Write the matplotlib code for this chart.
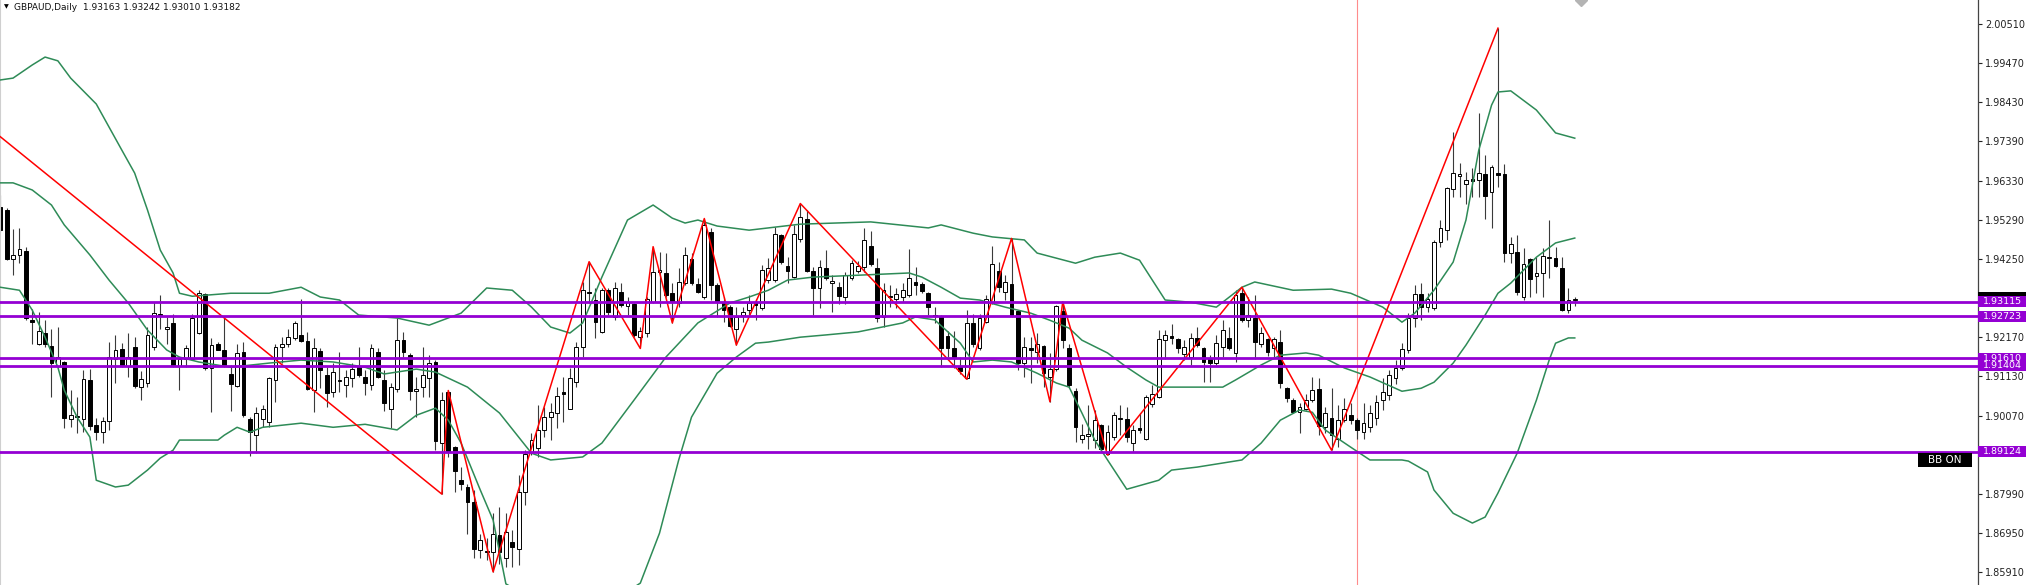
import matplotlib
matplotlib.use("Agg")
import matplotlib.pyplot as plt
from matplotlib.patches import Rectangle
from matplotlib.transforms import blended_transform_factory

# GBPAUD daily candles (oldest first)
opens = [1.9564, 1.9557, 1.9425, 1.9436, 1.9447, 1.9264, 1.9200, 1.9229, 1.9193, 1.9140,
         1.9152, 1.8998, 1.9005, 1.8998, 1.9103, 1.8982, 1.8965, 1.8994, 1.9158, 1.9186,
         1.9140, 1.9192, 1.9083, 1.9096, 1.9192, 1.9279, 1.9239, 1.9255, 1.9140, 1.9158,
         1.9160, 1.9227, 1.9332, 1.9134, 1.9198, 1.9184, 1.9119, 1.9087, 1.9178, 1.8998,
         1.8956, 1.8998, 1.8992, 1.9103, 1.9190, 1.9199, 1.9214, 1.9223, 1.9208, 1.9076,
         1.9181, 1.9116, 1.9072, 1.9101, 1.9089, 1.9107, 1.9140, 1.9112, 1.9089, 1.9178,
         1.9103, 1.9027, 1.9078, 1.9209, 1.9169, 1.9073, 1.9083, 1.9107, 1.9150, 1.8934,
         1.9072, 1.8925, 1.8836, 1.8817, 1.8779, 1.8650, 1.8647, 1.8645, 1.8690, 1.8628,
         1.8672, 1.8654, 1.8805, 1.8912, 1.8921, 1.8970, 1.9005, 1.9014, 1.9072, 1.9027,
         1.9098, 1.9192, 1.9338, 1.9316, 1.9231, 1.9342, 1.9271, 1.9338, 1.9300, 1.9305,
         1.9218, 1.9229, 1.9311, 1.9391, 1.9387, 1.9334, 1.9307, 1.9362, 1.9424, 1.9358,
         1.9325, 1.9498, 1.9356, 1.9311, 1.9298, 1.9240, 1.9276, 1.9289, 1.9307, 1.9294,
         1.9369, 1.9369, 1.9489, 1.9407, 1.9378, 1.9478, 1.9531, 1.9394, 1.9349, 1.9400,
         1.9360, 1.9351, 1.9323, 1.9374, 1.9394, 1.9405, 1.9460, 1.9402, 1.9270, 1.9327,
         1.9320, 1.9325, 1.9329, 1.9365, 1.9358, 1.9334, 1.9276, 1.9273, 1.9220, 1.9187,
         1.9140, 1.9107, 1.9255, 1.9187, 1.9258, 1.9307, 1.9394, 1.9338, 1.9358, 1.9287,
         1.9149, 1.9187, 1.9178, 1.9193, 1.9110, 1.9131, 1.9287, 1.9187, 1.9074, 1.8947,
         1.8954, 1.8943, 1.8983, 1.8907, 1.8952, 1.9000, 1.9000, 1.8934, 1.8974, 1.8947,
         1.9039, 1.9058, 1.9209, 1.9221, 1.9211, 1.9171, 1.9165, 1.9214, 1.9187, 1.9162,
         1.9147, 1.9190, 1.9214, 1.9176, 1.9334, 1.9263, 1.9267, 1.9200, 1.9211, 1.9187,
         1.9203, 1.9081, 1.9049, 1.9018, 1.9027, 1.9049, 1.9078, 1.8978, 1.9001, 1.8947,
         1.8996, 1.9009, 1.8996, 1.8965, 1.8978, 1.9001, 1.9049, 1.9063, 1.9108, 1.9135,
         1.9183, 1.9268, 1.9332, 1.9297, 1.9295, 1.9470, 1.9502, 1.9612, 1.9646, 1.9625,
         1.9638, 1.9636, 1.9651, 1.9604, 1.9654, 1.9651, 1.9441, 1.9444, 1.9324, 1.9425,
         1.9380, 1.9388, 1.9428, 1.9428, 1.9401, 1.9289, 1.93163]
highs = [1.9596, 1.9560, 1.9504, 1.9507, 1.9456, 1.9291, 1.9285, 1.9263, 1.9240, 1.9245,
         1.9154, 1.9076, 1.9058, 1.9129, 1.9131, 1.9001, 1.9005, 1.9205, 1.9223, 1.9202,
         1.9227, 1.9218, 1.9128, 1.9245, 1.9311, 1.9329, 1.9271, 1.9280, 1.9165, 1.9196,
         1.9279, 1.9342, 1.9335, 1.9214, 1.9205, 1.9270, 1.9143, 1.9200, 1.9205, 1.9005,
         1.9032, 1.9036, 1.9112, 1.9200, 1.9218, 1.9240, 1.9261, 1.9320, 1.9231, 1.9214,
         1.9187, 1.9138, 1.9147, 1.9178, 1.9129, 1.9147, 1.9192, 1.9129, 1.9200, 1.9187,
         1.9129, 1.9094, 1.9267, 1.9231, 1.9174, 1.9112, 1.9191, 1.9169, 1.9156, 1.9072,
         1.9075, 1.8927, 1.8872, 1.8827, 1.8810, 1.8694, 1.8681, 1.8748, 1.8765, 1.8748,
         1.8703, 1.8850, 1.8916, 1.8961, 1.9036, 1.9032, 1.9041, 1.9085, 1.9112, 1.9134,
         1.9205, 1.9365, 1.9418, 1.9347, 1.9347, 1.9347, 1.9365, 1.9360, 1.9325, 1.9307,
         1.9245, 1.9325, 1.9458, 1.9445, 1.9440, 1.9360, 1.9400, 1.9458, 1.9440, 1.9374,
         1.9533, 1.9507, 1.9360, 1.9325, 1.9302, 1.9298, 1.9298, 1.9329, 1.9320, 1.9409,
         1.9427, 1.9511, 1.9493, 1.9431, 1.9516, 1.9573, 1.9556, 1.9403, 1.9422, 1.9449,
         1.9382, 1.9365, 1.9391, 1.9422, 1.9420, 1.9507, 1.9500, 1.9427, 1.9360, 1.9356,
         1.9347, 1.9360, 1.9451, 1.9405, 1.9365, 1.9338, 1.9298, 1.9276, 1.9233, 1.9234,
         1.9165, 1.9289, 1.9280, 1.9279, 1.9329, 1.9460, 1.9418, 1.9382, 1.9480, 1.9289,
         1.9218, 1.9218, 1.9227, 1.9196, 1.9174, 1.9303, 1.9311, 1.9200, 1.9081, 1.8987,
         1.9036, 1.9023, 1.8987, 1.8983, 1.9018, 1.9036, 1.9032, 1.8983, 1.9014, 1.9063,
         1.9089, 1.9236, 1.9236, 1.9251, 1.9214, 1.9209, 1.9227, 1.9245, 1.9191, 1.9169,
         1.9223, 1.9263, 1.9245, 1.9343, 1.9350, 1.9325, 1.9329, 1.9245, 1.9214, 1.9218,
         1.9236, 1.9085, 1.9054, 1.9041, 1.9067, 1.9112, 1.9107, 1.9032, 1.9081, 1.9036,
         1.9054, 1.9041, 1.9001, 1.9041, 1.9036, 1.9063, 1.9108, 1.9129, 1.9156, 1.9201,
         1.9281, 1.9356, 1.9361, 1.9334, 1.9476, 1.9529, 1.9617, 1.9763, 1.9681, 1.9657,
         1.9667, 1.9814, 1.9702, 1.9675, 2.0040, 1.9678, 1.9484, 1.9489, 1.9454, 1.9428,
         1.9430, 1.9454, 1.9529, 1.9457, 1.9430, 1.9348, 1.93242]
lows = [1.9498, 1.9422, 1.9382, 1.9414, 1.9263, 1.9200, 1.9196, 1.9192, 1.9057, 1.9138,
        1.8974, 1.8978, 1.8961, 1.8965, 1.8970, 1.8943, 1.8934, 1.8970, 1.9094, 1.9138,
        1.9112, 1.9081, 1.9049, 1.9085, 1.9183, 1.9240, 1.9200, 1.9138, 1.9076, 1.9138,
        1.9158, 1.9225, 1.9129, 1.9018, 1.9183, 1.9138, 1.9021, 1.9083, 1.9005, 1.8900,
        1.8909, 1.8978, 1.8977, 1.9045, 1.9147, 1.9192, 1.9209, 1.9205, 1.9076, 1.9018,
        1.9081, 1.9032, 1.9058, 1.9072, 1.9058, 1.9085, 1.9112, 1.9063, 1.9076, 1.9107,
        1.9021, 1.8974, 1.9072, 1.9165, 1.9049, 1.9005, 1.9058, 1.9058, 1.8916, 1.8799,
        1.8898, 1.8805, 1.8810, 1.8694, 1.8628, 1.8628, 1.8623, 1.8592, 1.8614, 1.8605,
        1.8605, 1.8610, 1.8770, 1.8903, 1.8898, 1.8952, 1.8943, 1.8974, 1.8992, 1.9025,
        1.9085, 1.9165, 1.9307, 1.9214, 1.9227, 1.9276, 1.9263, 1.9298, 1.9276, 1.9218,
        1.9187, 1.9218, 1.9307, 1.9298, 1.9325, 1.9255, 1.9298, 1.9356, 1.9356, 1.9334,
        1.9320, 1.9316, 1.9271, 1.9258, 1.9245, 1.9196, 1.9258, 1.9276, 1.9262, 1.9289,
        1.9360, 1.9365, 1.9413, 1.9360, 1.9374, 1.9471, 1.9391, 1.9276, 1.9294, 1.9369,
        1.9285, 1.9305, 1.9305, 1.9369, 1.9389, 1.9391, 1.9406, 1.9258, 1.9245, 1.9298,
        1.9294, 1.9311, 1.9325, 1.9329, 1.9334, 1.9276, 1.9254, 1.9138, 1.9165, 1.9134,
        1.9120, 1.9105, 1.9192, 1.9184, 1.9254, 1.9305, 1.9338, 1.9316, 1.9271, 1.9129,
        1.9112, 1.9094, 1.9147, 1.9085, 1.9045, 1.9128, 1.9187, 1.9081, 1.8938, 1.8934,
        1.8918, 1.8921, 1.8914, 1.8903, 1.8943, 1.8956, 1.8938, 1.8912, 1.8961, 1.8943,
        1.9032, 1.9054, 1.9160, 1.9200, 1.9174, 1.9156, 1.9143, 1.9191, 1.9098, 1.9098,
        1.9143, 1.9165, 1.9183, 1.9152, 1.9258, 1.9245, 1.9160, 1.9191, 1.9167, 1.9165,
        1.9081, 1.9045, 1.9014, 1.8961, 1.9023, 1.9045, 1.8956, 1.8961, 1.8916, 1.8925,
        1.8992, 1.8987, 1.8947, 1.8947, 1.8964, 1.8983, 1.9023, 1.9049, 1.9092, 1.9129,
        1.9175, 1.9244, 1.9263, 1.9284, 1.9289, 1.9457, 1.9476, 1.9590, 1.9590, 1.9572,
        1.9590, 1.9590, 1.9532, 1.9508, 1.9617, 1.9417, 1.9414, 1.9329, 1.9316, 1.9324,
        1.9334, 1.9324, 1.9374, 1.9404, 1.9286, 1.9281, 1.93010]
closes = [1.9502, 1.9424, 1.9436, 1.9451, 1.9267, 1.9257, 1.9234, 1.9200, 1.9147, 1.9163,
          1.9001, 1.9011, 1.9008, 1.9105, 1.8980, 1.8965, 1.8994, 1.9163, 1.9184, 1.9140,
          1.9165, 1.9087, 1.9105, 1.9223, 1.9282, 1.9277, 1.9245, 1.9140, 1.9160, 1.9187,
          1.9267, 1.9335, 1.9134, 1.9196, 1.9184, 1.9143, 1.9092, 1.9176, 1.9009, 1.8965,
          1.9014, 1.9025, 1.9107, 1.9190, 1.9200, 1.9218, 1.9255, 1.9208, 1.9078, 1.9187,
          1.9129, 1.9069, 1.9125, 1.9103, 1.9110, 1.9131, 1.9116, 1.9094, 1.9187, 1.9110,
          1.9042, 1.9085, 1.9209, 1.9178, 1.9074, 1.9080, 1.9116, 1.9149, 1.8941, 1.9049,
          1.8914, 1.8861, 1.8827, 1.8779, 1.8654, 1.8676, 1.8644, 1.8694, 1.8645, 1.8699,
          1.8659, 1.8805, 1.8907, 1.8943, 1.8970, 1.9005, 1.9018, 1.9060, 1.9067, 1.9109,
          1.9192, 1.9342, 1.9334, 1.9258, 1.9342, 1.9285, 1.9347, 1.9302, 1.9311, 1.9223,
          1.9234, 1.9320, 1.9391, 1.9396, 1.9329, 1.9311, 1.9365, 1.9436, 1.9360, 1.9338,
          1.9516, 1.9356, 1.9311, 1.9289, 1.9247, 1.9271, 1.9285, 1.9309, 1.9302, 1.9396,
          1.9400, 1.9493, 1.9418, 1.9394, 1.9492, 1.9536, 1.9394, 1.9349, 1.9403, 1.9374,
          1.9366, 1.9327, 1.9382, 1.9414, 1.9406, 1.9477, 1.9412, 1.9269, 1.9343, 1.9323,
          1.9331, 1.9343, 1.9374, 1.9356, 1.9341, 1.9298, 1.9273, 1.9189, 1.9187, 1.9163,
          1.9128, 1.9255, 1.9200, 1.9267, 1.9320, 1.9411, 1.9351, 1.9365, 1.9276, 1.9149,
          1.9190, 1.9184, 1.9199, 1.9122, 1.9131, 1.9300, 1.9209, 1.9089, 1.8978, 1.8956,
          1.8959, 1.8996, 1.8918, 1.8965, 1.9010, 1.9002, 1.8952, 1.8970, 1.8971, 1.9058,
          1.9067, 1.9211, 1.9223, 1.9216, 1.9187, 1.9191, 1.9214, 1.9196, 1.9152, 1.9147,
          1.9202, 1.9236, 1.9187, 1.9329, 1.9263, 1.9276, 1.9205, 1.9227, 1.9178, 1.9211,
          1.9094, 1.9054, 1.9018, 1.9032, 1.9049, 1.9076, 1.8980, 1.9016, 1.8956, 1.8996,
          1.9027, 1.8996, 1.8969, 1.8989, 1.9015, 1.9044, 1.9071, 1.9116, 1.9135, 1.9185,
          1.9268, 1.9332, 1.9297, 1.9319, 1.9470, 1.9508, 1.9614, 1.9654, 1.9651, 1.9636,
          1.9633, 1.9654, 1.9593, 1.9670, 1.9649, 1.9441, 1.9465, 1.9337, 1.9412, 1.9372,
          1.9388, 1.9433, 1.9430, 1.9406, 1.9289, 1.9316, 1.93182]

# zigzag turning points (bar number, price)
zz_bar = [0, 69, 70, 77, 92, 100, 102, 105, 110, 115, 125, 151, 158, 164, 166, 173, 194, 208, 234]
zz_price = [1.9751, 1.8799, 1.9075, 1.8592, 1.9418, 1.9187, 1.9458, 1.9255, 1.9533, 1.9196,
            1.9573, 1.9105, 1.9480, 1.9045, 1.9311, 1.8903, 1.9350, 1.8916, 2.0040]

# bollinger bands, read at some bars
bb_up_bar = [0, 2, 5, 7, 9, 11, 15, 19, 21, 23, 25, 27, 28, 30, 36, 42, 47, 50, 53, 56,
             62, 67, 72, 76, 80, 83, 86, 89, 91, 94, 98, 102, 105, 107, 109, 112, 117, 125,
             136, 145, 147, 152, 155, 160, 162, 168, 171, 175, 178, 180, 182, 186, 190, 194,
             196, 202, 208, 211, 216, 219, 221, 224, 227, 229, 231, 233, 234, 236, 240, 243, 246]
bb_up = [1.9902, 1.9907, 1.9942, 1.9963, 1.9953, 1.9907, 1.9838, 1.9715, 1.9654, 1.9556,
         1.9449, 1.9388, 1.9334, 1.9326, 1.9334, 1.9334, 1.9350, 1.9324, 1.9316, 1.9276,
         1.9268, 1.9249, 1.9281, 1.9348, 1.9342, 1.9297, 1.9244, 1.9228, 1.9255, 1.9377,
         1.9529, 1.9569, 1.9534, 1.9521, 1.9529, 1.9513, 1.9502, 1.9518, 1.9524, 1.9508,
         1.9516, 1.9494, 1.9484, 1.9476, 1.9441, 1.9414, 1.9430, 1.9441, 1.9422, 1.9369,
         1.9316, 1.9310, 1.9297, 1.9350, 1.9364, 1.9342, 1.9345, 1.9334, 1.9297, 1.9257,
         1.9281, 1.9342, 1.9417, 1.9529, 1.9715, 1.9835, 1.9870, 1.9873, 1.9822, 1.9761, 1.9747]
bb_mid_bar = [0, 2, 5, 8, 10, 14, 17, 20, 23, 26, 28, 31, 36, 42, 47, 52, 57, 60, 65, 68,
              73, 78, 83, 86, 91, 94, 99, 104, 109, 114, 117, 120, 123, 127, 134, 142, 144,
              147, 150, 153, 157, 161, 164, 167, 169, 173, 176, 179, 181, 186, 191, 193, 197,
              200, 204, 206, 210, 214, 219, 222, 224, 227, 229, 232, 234, 236, 240, 243, 246]
bb_mid = [1.9628, 1.9628, 1.9609, 1.9569, 1.9516, 1.9436, 1.9369, 1.9308, 1.9236, 1.9183,
          1.9164, 1.9151, 1.9137, 1.9148, 1.9156, 1.9151, 1.9137, 1.9119, 1.9132, 1.9124,
          1.9084, 1.9015, 1.8908, 1.8890, 1.8898, 1.8935, 1.9049, 1.9164, 1.9255, 1.9308,
          1.9324, 1.9342, 1.9369, 1.9377, 1.9382, 1.9388, 1.9377, 1.9350, 1.9321, 1.9316,
          1.9297, 1.9281, 1.9262, 1.9241, 1.9209, 1.9175, 1.9137, 1.9103, 1.9084, 1.9084,
          1.9084, 1.9103, 1.9143, 1.9169, 1.9175, 1.9169, 1.9135, 1.9111, 1.9073, 1.9081,
          1.9097, 1.9148, 1.9196, 1.9276, 1.9334, 1.9361, 1.9430, 1.9468, 1.9481]
bb_low_bar = [0, 3, 5, 7, 9, 10, 12, 14, 15, 18, 20, 23, 25, 27, 28, 30, 34, 35, 37, 39,
              41, 47, 52, 57, 62, 65, 68, 70, 72, 75, 77, 79, 83, 88, 94, 100, 103, 106,
              108, 112, 115, 118, 120, 125, 129, 134, 141, 143, 146, 150, 152, 155, 158, 162,
              165, 167, 169, 171, 173, 176, 181, 183, 187, 194, 197, 200, 203, 205, 207, 211,
              214, 219, 220, 223, 224, 227, 230, 232, 234, 237, 240, 242, 243, 245, 246]
bb_low = [1.9350, 1.9342, 1.9289, 1.9217, 1.9137, 1.9076, 1.9004, 1.8951, 1.8836, 1.8818,
          1.8823, 1.8863, 1.8895, 1.8916, 1.8943, 1.8943, 1.8943, 1.8956, 1.8977, 1.8964,
          1.8977, 1.8988, 1.8977, 1.8985, 1.8970, 1.9009, 1.9028, 1.8996, 1.8935, 1.8810,
          1.8730, 1.8560, 1.8520, 1.8550, 1.8495, 1.8562, 1.8695, 1.8890, 1.9004, 1.9121,
          1.9164, 1.9201, 1.9204, 1.9217, 1.9223, 1.9231, 1.9255, 1.9271, 1.9263, 1.9201,
          1.9151, 1.9156, 1.9151, 1.9121, 1.9095, 1.9084, 1.9015, 1.8943, 1.8890, 1.8812,
          1.8836, 1.8863, 1.8871, 1.8890, 1.8935, 1.8996, 1.9023, 1.9017, 1.8970, 1.8924,
          1.8890, 1.8890, 1.8887, 1.8858, 1.8810, 1.8748, 1.8722, 1.8738, 1.8802, 1.8908,
          1.9049, 1.9156, 1.9201, 1.9215, 1.9215]

# horizontal levels drawn on the chart
levels = [1.93115, 1.92723, 1.91610, 1.91404, 1.89124]
price_ticks = [2.00510, 1.99470, 1.98430, 1.97390, 1.96330, 1.95290, 1.94250, 1.93210,
               1.92170, 1.91130, 1.90070, 1.89030, 1.87990, 1.86950, 1.85910]
hidden_ticks = [1.93210, 1.89030]   # their labels sit under the level boxes
bid = 1.93182
vline_bar = 212
shift_bar = 247

fig = plt.figure(figsize=(20.3, 5.85), dpi=100)
ax = fig.add_axes([0, 0, 1978 / 2030, 1])
ax.set_xlim(-0.04, 309)
ax.set_ylim(1.8557, 2.0115)

bars = list(range(len(opens)))
ax.vlines(bars, lows, highs, color='#3a3a3a', lw=0.8, zorder=2)
for i in bars:
    o, c = opens[i], closes[i]
    col = 'white' if c >= o else 'black'
    ax.add_patch(Rectangle((i - 0.29, min(o, c)), 0.58, max(abs(c - o), 0.00004),
                           facecolor=col, edgecolor='black', lw=0.7, zorder=2.2))

ax.plot(bb_up_bar, bb_up, color='#2e8b57', lw=1.1, zorder=3)
ax.plot(bb_mid_bar, bb_mid, color='#2e8b57', lw=1.1, zorder=3)
ax.plot(bb_low_bar, bb_low, color='#2e8b57', lw=1.1, zorder=3)
ax.plot(zz_bar, zz_price, color='#ff0000', lw=1.1, zorder=3.5)
ax.axvline(vline_bar, color='#ff8c8c', lw=0.8, zorder=1)
for lv in levels:
    ax.axhline(lv, color='#9400d3', lw=2.0, zorder=4)

ax.plot([shift_bar], [2.0115], 'D', ms=6, color='#b4b4b4', zorder=5)

ax.yaxis.tick_right()
ax.set_yticks(price_ticks)
ax.set_yticklabels(['' if v in hidden_ticks else '%.5f' % v for v in price_ticks])
ax.tick_params(axis='y', direction='out', length=3, width=0.8, pad=2, labelsize=7, colors='#222222')
ax.set_xticks([])
for s in ['top', 'bottom']:
    ax.spines[s].set_visible(False)
ax.spines['left'].set_color('#cfcfcf')
ax.spines['right'].set_color('#444444')
ax.spines['right'].set_linewidth(0.9)

# price labels on the right scale, later ones lie over earlier ones
tr = blended_transform_factory(ax.transAxes, ax.transData)
box_w = 48 / 1978
box_h = 10.5 * 0.0002664
ax.add_patch(Rectangle((1.0, bid - 0.0006 - box_h / 2), box_w, box_h + 0.0012, transform=tr,
                       facecolor='black', edgecolor='none', clip_on=False, zorder=6))
for k, lv in enumerate(levels):
    ax.add_patch(Rectangle((1.0, lv - box_h / 2), box_w, box_h, transform=tr,
                           facecolor='#9400d3', edgecolor='none', clip_on=False, zorder=7 + 2 * k))
    ax.text(1.0 + 5 / 1978, lv, '%.5f' % lv, transform=tr, color='white', fontsize=6.8,
            va='center', ha='left', clip_on=False, zorder=8 + 2 * k)

ax.add_patch(Rectangle((1918 / 1978, 1.88709), 54 / 1978, 0.00373, transform=tr,
                       facecolor='black', edgecolor='none', zorder=6))
ax.text(1945 / 1978, 1.88895, 'BB ON', transform=tr, color='white', fontsize=7.5,
        va='center', ha='center', zorder=8)

fig.text(4 / 2030, 1 - 7 / 585, '\u25bc', fontsize=4.5, va='center', ha='left')
fig.text(14 / 2030, 1 - 7 / 585, 'GBPAUD,Daily  1.93163 1.93242 1.93010 1.93182',
         fontsize=6.5, va='center', ha='left', color='#111111')

fig.savefig('out.png', dpi=100)
